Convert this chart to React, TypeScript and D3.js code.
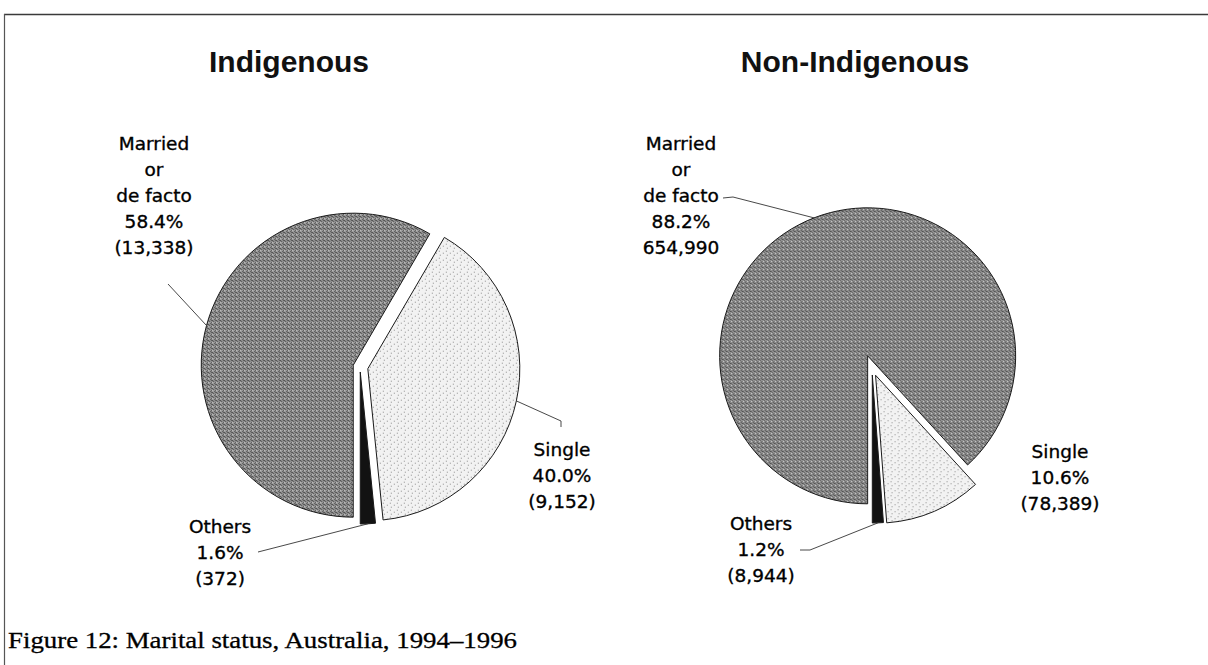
import { useEffect, useRef } from "react";
import * as d3 from "d3";

const WIDTH = 1208;
const HEIGHT = 665;

// data
const categories = ["Married or de facto", "Single", "Others"];
const indigenousPct = [58.4, 40.0, 1.6];
const indigenousCount = [13338, 9152, 372];
const nonIndigenousPct = [88.2, 10.6, 1.2];
const nonIndigenousCount = [654990, 78389, 8944];
const nonIndigenousParens = [false, true, true]; // the married count is printed bare
const titles = ["Indigenous", "Non-Indigenous"];
const caption = "Figure 12: Marital status, Australia, 1994\u20131996";

const categoryLines: Record<string, string[]> = {
  "Married or de facto": ["Married", "or", "de facto"],
  Single: ["Single"],
  Others: ["Others"],
};

const fills: Record<string, string> = {
  "Married or de facto": "url(#patMarried)",
  Single: "url(#patSingle)",
  Others: "#121212",
};

type LabelLayout = {
  x: number;
  y: number;
  leader: [number, number][] | null; // label side points, arc point appended
  arcFirst?: boolean;
};

const PIES = [
  {
    title: titles[0],
    pct: indigenousPct,
    count: indigenousCount,
    parens: [true, true, true],
    cx: 360,
    cy: 367,
    r: 152,
    explode: { "Married or de facto": 7, Single: 8, Others: 5 } as Record<string, number>,
    titleX: 289,
    labels: {
      "Married or de facto": { x: 154, y: 150, leader: [[168, 284]] },
      Single: { x: 562, y: 456, leader: [[561, 427], [561, 421]], arcFirst: true },
      Others: { x: 220, y: 533, leader: [[258, 552]] },
    } as Record<string, LabelLayout>,
  },
  {
    title: titles[1],
    pct: nonIndigenousPct,
    count: nonIndigenousCount,
    parens: nonIndigenousParens,
    cx: 872,
    cy: 367,
    r: 148,
    explode: { "Married or de facto": 12, Single: 9, Others: 8 } as Record<string, number>,
    titleX: 855,
    labels: {
      "Married or de facto": { x: 681, y: 150, leader: [[723, 198], [733, 197]] },
      Single: { x: 1060, y: 458, leader: null },
      Others: { x: 761, y: 530, leader: [[800, 550], [810, 550]] },
    } as Record<string, LabelLayout>,
  },
];

const LABEL_FONT = "'DejaVu Sans', sans-serif";
const LINE_H = 26;

const App = () => {
  const svgRef = useRef(null);

  useEffect(() => {
    const svg = d3.select(svgRef.current);
    svg.selectAll("*").remove();

    // textures imitating the halftone print
    const defs = svg.append("defs");
    const pm = defs
      .append("pattern")
      .attr("id", "patMarried")
      .attr("width", 4)
      .attr("height", 4)
      .attr("patternUnits", "userSpaceOnUse");
    pm.append("rect").attr("width", 4).attr("height", 4).attr("fill", "#9a9a9a");
    [[0, 0], [2, 1], [1, 2], [3, 3], [2, 3]].forEach(([x, y]) =>
      pm.append("rect").attr("x", x).attr("y", y).attr("width", 1).attr("height", 1).attr("fill", "#444")
    );
    pm.append("rect").attr("x", 3).attr("y", 1).attr("width", 1).attr("height", 1).attr("fill", "#e6e6e6");

    const ps = defs
      .append("pattern")
      .attr("id", "patSingle")
      .attr("width", 7)
      .attr("height", 7)
      .attr("patternUnits", "userSpaceOnUse");
    ps.append("rect").attr("width", 7).attr("height", 7).attr("fill", "#f2f2f2");
    [[1, 1], [5, 3], [2, 5]].forEach(([x, y]) =>
      ps.append("rect").attr("x", x).attr("y", y).attr("width", 1).attr("height", 1).attr("fill", "#8c8c8c")
    );

    // frame: top rule and left rule
    svg.append("line").attr("x1", 4).attr("x2", WIDTH).attr("y1", 14.5).attr("y2", 14.5)
      .attr("stroke", "#3a3a3a").attr("stroke-width", 1.5);
    svg.append("line").attr("x1", 4.5).attr("x2", 4.5).attr("y1", 14).attr("y2", HEIGHT)
      .attr("stroke", "#555").attr("stroke-width", 1.2);

    const fmt = d3.format(",");

    PIES.forEach((p) => {
      const rows = categories.map((c, i) => ({ cat: c, pct: p.pct[i], count: p.count[i], parens: p.parens[i] }));
      // slices run clockwise Single, Others, Married; Married starts straight down
      const order = ["Single", "Others", "Married or de facto"];
      const ordered = order.map((c) => rows.find((r) => r.cat === c)!);
      const before = ordered[0].pct + ordered[1].pct;
      const start = 2 * Math.PI * (0.5 - before / 100);
      const pie = d3
        .pie<any>()
        .sort(null)
        .value((d) => d.pct)
        .startAngle(start)
        .endAngle(start + 2 * Math.PI);
      const arcs = pie(ordered);
      const arc = d3.arc<any>().innerRadius(0).outerRadius(p.r);

      const g = svg.append("g").attr("transform", `translate(${p.cx},${p.cy})`);

      arcs.forEach((a) => {
        const mid = (a.startAngle + a.endAngle) / 2;
        const off = p.explode[a.data.cat];
        const dx = Math.sin(mid) * off;
        const dy = -Math.cos(mid) * off;
        g.append("path")
          .attr("transform", `translate(${dx},${dy})`)
          .attr("d", arc(a))
          .attr("fill", fills[a.data.cat])
          .attr("stroke", "#1a1a1a")
          .attr("stroke-width", 1)
          .attr("stroke-linejoin", "miter");

        // leader line to the mid point of the outer arc
        const lay = p.labels[a.data.cat];
        if (lay.leader) {
          const ax = p.cx + dx + Math.sin(mid) * p.r;
          const ay = p.cy + dy - Math.cos(mid) * p.r;
          const pts = lay.leader.map((q) => q as [number, number]);
          const all: [number, number][] = lay.arcFirst ? [[ax, ay], ...pts.reverse()] : [...pts, [ax, ay]];
          svg.append("path")
            .attr("d", d3.line()(all))
            .attr("fill", "none")
            .attr("stroke", "#333")
            .attr("stroke-width", 0.9);
        }

        const lines = [
          ...categoryLines[a.data.cat],
          `${a.data.pct.toFixed(1)}%`,
          a.data.parens ? `(${fmt(a.data.count)})` : fmt(a.data.count),
        ];
        const t = svg.append("text")
          .attr("text-anchor", "middle")
          .attr("font-family", LABEL_FONT)
          .attr("font-size", 18.5)
          .attr("fill", "#000")
          .attr("stroke", "#000")
          .attr("stroke-width", 0.35);
        lines.forEach((s, i) =>
          t.append("tspan").attr("x", lay.x).attr("y", lay.y + i * LINE_H).text(s)
        );
      });

      svg.append("text")
        .attr("x", p.titleX)
        .attr("y", 72)
        .attr("text-anchor", "middle")
        .attr("font-family", "'Liberation Sans', Arial, sans-serif")
        .attr("font-weight", 700)
        .attr("font-size", 30)
        .attr("fill", "#111")
        .text(p.title);
    });

    svg.append("text")
      .attr("x", 8)
      .attr("y", 648)
      .attr("font-family", "'Liberation Serif', serif")
      .attr("font-size", 24)
      .attr("textLength", 509)
      .attr("lengthAdjust", "spacingAndGlyphs")
      .attr("fill", "#000")
      .attr("stroke", "#000")
      .attr("stroke-width", 0.3)
      .text(caption);
  }, []);

  return (
    <svg
      ref={svgRef}
      width={WIDTH}
      height={HEIGHT}
      style={{ position: "absolute", left: 0, top: 0, background: "#fff" }}
    ></svg>
  );
};

export default App;
